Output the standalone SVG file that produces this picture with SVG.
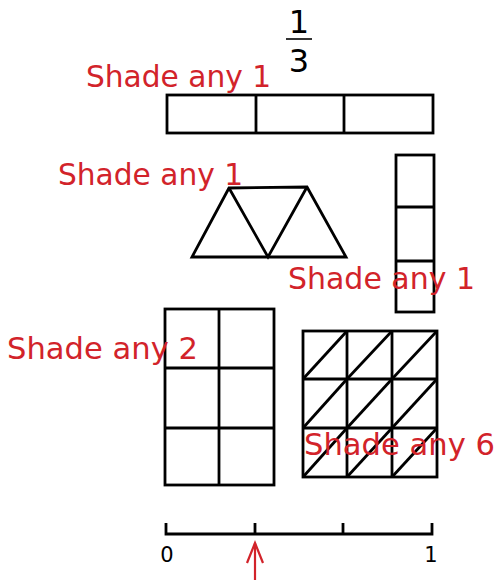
<svg xmlns="http://www.w3.org/2000/svg" width="502" height="586" viewBox="0 0 502 586">
<style>
.ln{fill:none;stroke:#000;stroke-width:2.8;stroke-linejoin:miter}
.lbl{font-family:"DejaVu Sans","Liberation Sans",sans-serif;font-size:30px;fill:#d2232a}
.num{font-family:"DejaVu Sans","Liberation Sans",sans-serif;fill:#000;text-anchor:middle}
</style>
<rect width="502" height="586" fill="#fff"/>
<g id="fraction">
<text class="num" x="299" y="33" font-size="32">1</text>
<line x1="286" y1="39" x2="312" y2="39" stroke="#000" stroke-width="1.6"/>
<text class="num" x="299" y="72" font-size="32">3</text>
</g>
<g id="bar">
<rect class="ln" x="167" y="95" width="266" height="38"/>
<line class="ln" x1="256" y1="95" x2="256" y2="133"/>
<line class="ln" x1="344" y1="95" x2="344" y2="133"/>
</g>
<g id="triangles">
<polygon class="ln" points="229,188 307,187 346,257 192,257"/>
<polyline class="ln" points="229,188 268,257 307,187"/>
</g>
<g id="column">
<rect class="ln" x="396" y="155" width="38" height="157"/>
<line class="ln" x1="396" y1="207" x2="434" y2="207"/>
<line class="ln" x1="396" y1="261" x2="434" y2="261"/>
</g>
<g id="grid6">
<rect class="ln" x="165" y="309" width="109" height="176"/>
<line class="ln" x1="219" y1="309" x2="219" y2="485"/>
<line class="ln" x1="165" y1="368" x2="274" y2="368"/>
<line class="ln" x1="165" y1="428" x2="274" y2="428"/>
</g>
<g id="grid9">
<rect class="ln" x="303" y="331" width="134" height="146"/>
<line class="ln" x1="347" y1="331" x2="347" y2="477"/>
<line class="ln" x1="392" y1="331" x2="392" y2="477"/>
<line class="ln" x1="303" y1="379" x2="437" y2="379"/>
<line class="ln" x1="303" y1="428" x2="437" y2="428"/>
<line class="ln" x1="303" y1="379" x2="347" y2="331"/>
<line class="ln" x1="347" y1="379" x2="392" y2="331"/>
<line class="ln" x1="392" y1="379" x2="437" y2="331"/>
<line class="ln" x1="303" y1="428" x2="347" y2="379"/>
<line class="ln" x1="347" y1="428" x2="392" y2="379"/>
<line class="ln" x1="392" y1="428" x2="437" y2="379"/>
<line class="ln" x1="303" y1="477" x2="347" y2="428"/>
<line class="ln" x1="347" y1="477" x2="392" y2="428"/>
<line class="ln" x1="392" y1="477" x2="437" y2="428"/>
</g>
<g id="numberline">
<polyline class="ln" points="166,523 166,534 432,534 432,523"/>
<line class="ln" x1="255" y1="523" x2="255" y2="534"/>
<line class="ln" x1="343" y1="523" x2="343" y2="534"/>
<text class="num" x="167" y="562" font-size="21">0</text>
<text class="num" x="431" y="562" font-size="21">1</text>
</g>
<g id="connectors">
<line x1="255" y1="580" x2="255" y2="543" stroke="#d2232a" stroke-width="2.2"/>
<polyline points="247,563 255,543 263,563" fill="none" stroke="#d2232a" stroke-width="2.2"/>
</g>
<g id="labels">
<text class="lbl" x="86" y="87" textLength="185" lengthAdjust="spacingAndGlyphs">Shade any 1</text>
<text class="lbl" x="58" y="185" textLength="185" lengthAdjust="spacingAndGlyphs">Shade any 1</text>
<text class="lbl" x="288" y="289" textLength="187" lengthAdjust="spacingAndGlyphs">Shade any 1</text>
<text class="lbl" x="7" y="359" textLength="191" lengthAdjust="spacingAndGlyphs">Shade any 2</text>
<text class="lbl" x="304" y="455" textLength="191" lengthAdjust="spacingAndGlyphs">Shade any 6</text>
</g>
</svg>
